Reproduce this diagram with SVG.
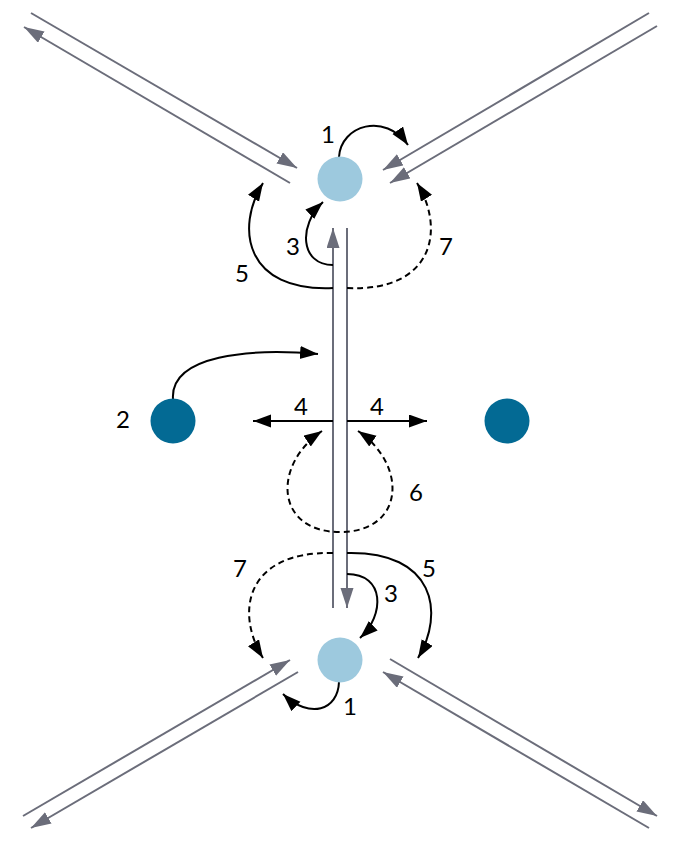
<svg xmlns="http://www.w3.org/2000/svg" width="675" height="856" viewBox="0 0 675 856">
<defs>
<style>
.g{stroke:#6b6d7a;stroke-width:2;fill:none}
.b{stroke:#000;stroke-width:2;fill:none}
.d{stroke-dasharray:6 4}
.lbl{font-family:Lato,"Liberation Sans",sans-serif;font-size:24px;fill:#000;text-anchor:middle}
</style>
<marker id="ga" markerUnits="userSpaceOnUse" markerWidth="22" markerHeight="14" refX="20" refY="6.5" orient="auto"><path d="M0,0 L20,6.5 L0,13 z" fill="#6b6d7a"/></marker>
<marker id="ba" markerUnits="userSpaceOnUse" markerWidth="20" markerHeight="14" refX="18" refY="6.5" orient="auto-start-reverse"><path d="M0,0 L18,6.5 L0,13 z" fill="#000"/></marker>
</defs>
<rect width="675" height="856" fill="#fff"/>
<g id="connectors">
<line class="g" x1="31" y1="13" x2="297" y2="168" marker-end="url(#ga)"/>
<line class="g" x1="290" y1="183" x2="24" y2="27" marker-end="url(#ga)"/>
<line class="g" x1="649" y1="13" x2="383" y2="170" marker-end="url(#ga)"/>
<line class="g" x1="657" y1="26" x2="390" y2="183" marker-end="url(#ga)"/>
<line class="g" x1="23" y1="816" x2="290" y2="660" marker-end="url(#ga)"/>
<line class="g" x1="298" y1="672" x2="31" y2="828" marker-end="url(#ga)"/>
<line class="g" x1="390" y1="659" x2="657" y2="816" marker-end="url(#ga)"/>
<line class="g" x1="649" y1="828" x2="383" y2="672" marker-end="url(#ga)"/>
<line class="g" x1="333" y1="608" x2="333" y2="228" marker-end="url(#ga)"/>
<line class="g" x1="347" y1="228" x2="347" y2="608" marker-end="url(#ga)"/>
<path class="b" d="M339,157 C341,125 385,112 408,145" marker-end="url(#ba)"/>
<path class="b" d="M333,265 C300,265 298,225 323,202" marker-end="url(#ba)"/>
<path class="b" d="M333,288 C245,292 235,228 263,183" marker-end="url(#ba)"/>
<path class="b d" d="M347,288 C435,292 445,228 417,183" marker-end="url(#ba)"/>
<path class="b" d="M173,399 C170,355 250,348 318,354" marker-end="url(#ba)"/>
<line class="b" x1="333" y1="421" x2="253" y2="421" marker-end="url(#ba)"/>
<line class="b" x1="347" y1="421" x2="427" y2="421" marker-end="url(#ba)"/>
<path class="b d" d="M322,431 C272,465 275,532 340,532 C405,532 408,465 358,431" marker-start="url(#ba)" marker-end="url(#ba)"/>
<path class="b d" d="M333,553 C245,551 235,613 263,658" marker-end="url(#ba)"/>
<path class="b" d="M347,553 C435,551 445,613 418,658" marker-end="url(#ba)"/>
<path class="b" d="M347,574 C385,574 385,615 360,638" marker-end="url(#ba)"/>
<path class="b" d="M339,682 C338,710 310,720 283,694" marker-end="url(#ba)"/>
</g>
<g id="node-top"><circle cx="340" cy="179" r="22.5" fill="#9dc9de"/></g>
<g id="node-bottom"><circle cx="340" cy="660" r="22.5" fill="#9dc9de"/></g>
<g id="node-left"><circle cx="173" cy="421" r="22.5" fill="#036a94"/></g>
<g id="node-right"><circle cx="507" cy="421" r="22.5" fill="#036a94"/></g>
<g id="labels">
<text class="lbl" x="328" y="143">1</text>
<text class="lbl" x="293" y="255">3</text>
<text class="lbl" x="242" y="282">5</text>
<text class="lbl" x="446" y="255">7</text>
<text class="lbl" x="123" y="428">2</text>
<text class="lbl" x="301" y="415">4</text>
<text class="lbl" x="377" y="415">4</text>
<text class="lbl" x="416" y="501">6</text>
<text class="lbl" x="240" y="577">7</text>
<text class="lbl" x="429" y="577">5</text>
<text class="lbl" x="391" y="602">3</text>
<text class="lbl" x="350" y="715">1</text>
</g>
</svg>
